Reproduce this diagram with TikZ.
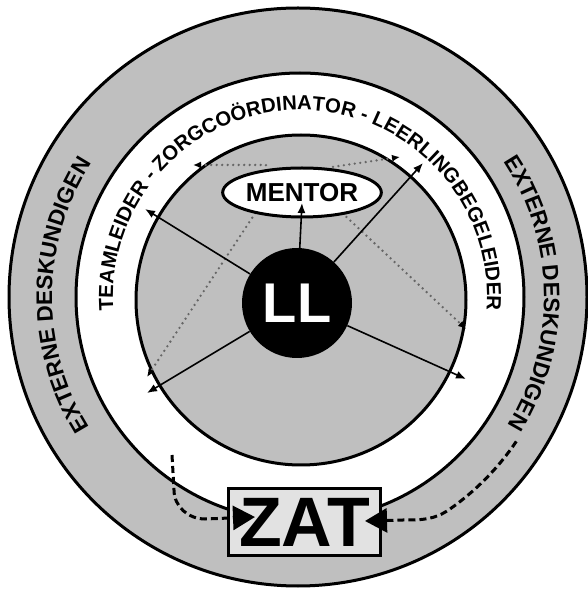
\documentclass[tikz,border=0pt]{standalone}
\usepackage{fontspec}
\setmainfont{Liberation Sans}
\usetikzlibrary{arrows.meta,decorations.text,shapes.geometric}
\newcommand\myfs[1]{\fontsize{#1}{#1}\selectfont\bfseries}
\definecolor{ringgray}{HTML}{BFBFBF}
\definecolor{boxgray}{HTML}{E2E2E2}
\definecolor{dotgray}{HTML}{666666}
\begin{document}
\begin{tikzpicture}[x=1pt,y=1pt,
  ring/.style={draw=black,line width=3pt},
  solidarrow/.style={line width=1.6pt,-{Latex[length=10pt,width=8pt]}},
  dotline/.style={dotgray,line width=2.6pt,line cap=round,dash pattern=on 0pt off 5.5pt,
     {Latex[length=8pt,width=7pt,black]}-{Latex[length=8pt,width=7pt,black]}},
  zatarrow/.style={line width=3pt,dash pattern=on 7pt off 4pt,-{Triangle[length=22pt,width=24pt]}},
  arctext/.style={decorate,decoration={text along path,text align=center,text={#1}}}
]
\useasboundingbox (0,0) rectangle (588,590);
\fill[white] (0,0) rectangle (588,590);
\coordinate (c1) at (298,293);
\coordinate (c2) at (300,293);
\coordinate (c3) at (301,290);
\draw[ring,fill=ringgray] (c1) circle[radius=289];
\draw[ring,fill=white] (c2) circle[radius=224];
\draw[ring,fill=ringgray] (c3) circle[radius=165];

% dotted links
\coordinate (dl1) at (193,425);
\coordinate (dl2) at (266,425);
\coordinate (dl3) at (258,381);
\coordinate (dl4) at (147,213);
\coordinate (dr1) at (400,433);
\coordinate (dr2) at (332,423);
\coordinate (dr3) at (338,381);
\coordinate (dr4) at (466,261);
\draw[dotline] (dl1) -- (dl2) -- (dl3) -- (dl4);
\draw[dotline] (dr1) -- (dr2) -- (dr3) -- (dr4);

% LL and arrows
\node[circle,fill=black,minimum size=110pt,inner sep=0pt,text=white,font=\myfs{56}] (LL) at (297,287) {LL};
\coordinate (aul) at (145,381);
\coordinate (aur) at (423,427);
\coordinate (all) at (147,197);
\coordinate (alr) at (466,211);
\coordinate (amt) at (302,387);
\draw[solidarrow] (LL) -- (aul);
\draw[solidarrow] (LL) -- (aur);
\draw[solidarrow] (LL) -- (all);
\draw[solidarrow] (LL) -- (alr);

\node[ellipse,draw,line width=3pt,fill=white,minimum width=150pt,minimum height=49pt,inner sep=0pt,font=\myfs{26}] (mentor) at (302,397.5) {MENTOR};
\draw[solidarrow] (LL) -- (amt);

% ring texts
\path[arctext={|\myfs{22.5}|EXTERNE DESKUNDIGEN}] ([shift={(219.5:246)}]c1) arc[start angle=219.5,end angle=139.5,radius=246];
\path[arctext={|\myfs{22.5}|EXTERNE DESKUNDIGEN}] ([shift={(41:246)}]c1) arc[start angle=41,end angle=-39,radius=246];
\path[arctext={|\myfs{20.3}|TEAMLEIDER - ZORGCOÖRDINATOR - LEERLINGBEGELEIDER}] ([shift={(200:187)}]c2) arc[start angle=200,end angle=-20,radius=187];

% ZAT
\node[draw,line width=3pt,fill=boxgray,minimum width=152pt,minimum height=67pt,inner sep=0pt,font=\myfs{70}] (zat) at (304.5,68) {ZAT};
\coordinate (ls) at (172,135);
\coordinate (lm) at (174,100);
\coordinate (lc) at (205,71);
\draw[zatarrow] (ls) -- (lm) to[out=-90,in=180] (lc) -- ([xshift=28pt,yshift=5pt]zat.west);
\coordinate (rs) at (516.3,148.6);
\coordinate (rc) at (403,70);
\draw[zatarrow] (rs) arc[start angle=-34,end angle=-55,radius=261] to[out=-145,in=0] (rc) -- ([xshift=-17pt,yshift=1pt]zat.east);
\end{tikzpicture}
\end{document}
